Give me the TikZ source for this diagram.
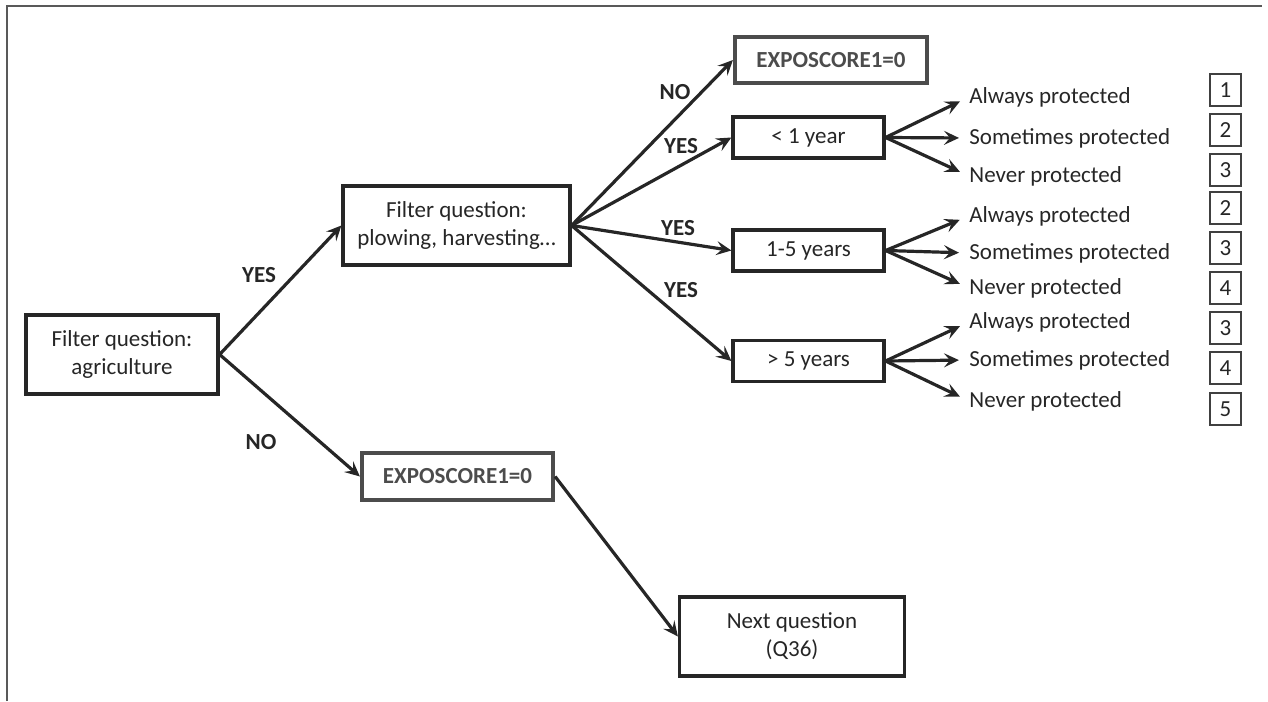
\documentclass[tikz,border=0pt]{standalone}
\usepackage{fontspec}
\setmainfont{Carlito}
\usetikzlibrary{arrows.meta}

\begin{document}
\begin{tikzpicture}[x=0.5pt, y=-0.5pt,
  every node/.style = {font=\fontsize{11.5}{14}\selectfont, text=black!85},
  qbox/.style = {shape=rectangle, draw=black!85, line width=1.6pt,
    align=center, inner sep=2pt},
  expobox/.style = {qbox, draw=black!70, line width=2.1pt,
    font=\fontsize{11.5}{14}\selectfont\bfseries, text=black!70},
  yearbox/.style = {qbox, minimum width=75.5pt, minimum height=20.5pt},
  outcome/.style = {anchor=west, inner sep=0pt},
  ptbox/.style = {draw=black!75, line width=1.4pt, minimum width=15.5pt,
    minimum height=16pt, inner sep=0pt},
  lbl/.style = {font=\fontsize{11.5}{14}\selectfont\bfseries},
  arr/.style = {draw=black!85, line width=1.6pt,
    -{Stealth[length=7.5pt, width=7pt, inset=3pt]}}]
  \useasboundingbox (0,0) rectangle (1268,701);
  \draw[black!65, line width=1pt] (7,701) -- (7,6) -- (1262,6);

  \node[qbox, minimum width=96pt, minimum height=39.5pt] (agri) at (122,354.5)
    {Filter question:\\agriculture};
  \node[qbox, minimum width=113.5pt, minimum height=39.5pt] (plow) at (456.5,225.5)
    {Filter question:\\plowing, harvesting\dots};
  \node[expobox, minimum width=95.5pt, minimum height=23.5pt] (expo2) at (457.5,476.5)
    {EXPOSCORE1=0};
  \node[qbox, minimum width=112.5pt, minimum height=39.5pt] (next) at (792,636.5)
    {Next question\\(Q36)};
  \node[expobox, minimum width=96pt, minimum height=23pt] (expo1) at (831,60)
    {EXPOSCORE1=0};
  \node[yearbox] (less1) at (808.5,137.5) {< 1 year};
  \node[yearbox] (oneto5) at (808.5,250.5) {1-5 years};
  \node[yearbox] (more5) at (808.5,361) {> 5 years};

  \draw[arr] (agri.east) -- (plow.west);
  \draw[arr] (agri.east) -- (expo2.west);
  \draw[arr] (expo2.east) -- (next.west);
  \draw[arr] (plow.east) -- (expo1.west);
  \foreach \b in {less1, oneto5, more5}
    \draw[arr] (plow.east) -- (\b.west);

  \node[lbl] (yes0) at (259,275) {YES};
  \node[lbl] (no0) at (261,442) {NO};
  \node[lbl] (no1) at (675,92) {NO};
  \node[lbl] (yes1) at (681,146) {YES};
  \node[lbl] (yes2) at (678,228) {YES};
  \node[lbl] (yes3) at (681,290) {YES};

  \foreach \b/\ya/\yb/\yc in {less1/97/138/176, oneto5/216/253/288, more5/322/360/401} {
    \node[outcome] (\b-a) at (969,\ya) {Always protected};
    \node[outcome] (\b-s) at (969,\yb) {Sometimes protected};
    \node[outcome] (\b-n) at (969,\yc) {Never protected};
    \draw[arr, shorten >=5pt] (\b.east) -- (\b-a.west);
    \draw[arr, shorten >=5pt] (\b.east) -- (\b-s.west);
    \draw[arr, shorten >=5pt] (\b.east) -- (\b-n.west);
  }

  \foreach \s/\y [count=\i] in {1/90, 2/130, 3/170, 2/208, 3/248, 4/288, 3/328, 4/368, 5/409}
    \node[ptbox] (pt\i) at (1225.5,\y) {\s};
\end{tikzpicture}
\end{document}
